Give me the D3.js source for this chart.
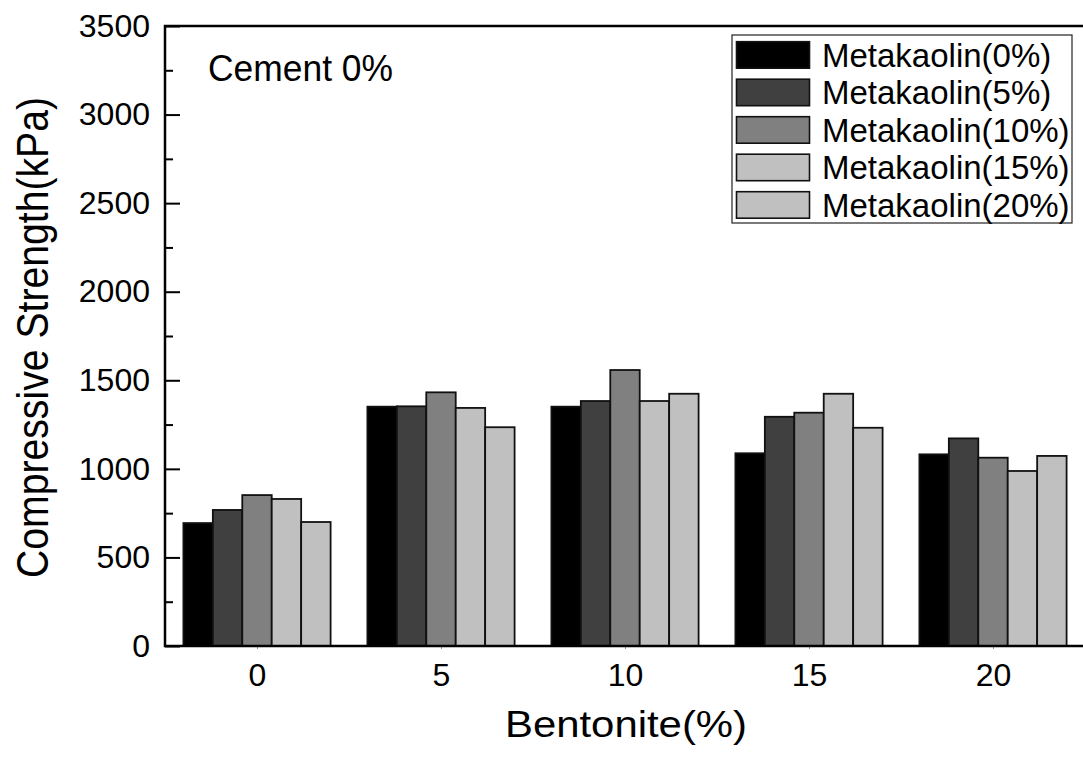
<!DOCTYPE html>
<html>
<head>
<meta charset="utf-8">
<script src="https://cdn.jsdelivr.net/npm/d3@7"></script>
<style>
  html, body { margin: 0; padding: 0; background: #fff; }
  svg { display: block; font-family: "Liberation Sans", Arial, sans-serif; }
</style>
</head>
<body>
<svg id="chart" width="1083" height="757"></svg>
<script>
// Bentonite content (%) on the x axis
const bentonite = [0, 5, 10, 15, 20];

// Compressive strength (kPa) for each metakaolin content
const seriesNames = ["Metakaolin(0%)", "Metakaolin(5%)", "Metakaolin(10%)", "Metakaolin(15%)", "Metakaolin(20%)"];
const mk0  = [694, 1351, 1351, 1088, 1082];
const mk5  = [768, 1353, 1383, 1294, 1172];
const mk10 = [852, 1432, 1558, 1317, 1063];
const mk15 = [830, 1344, 1383, 1424, 988];
const mk20 = [700, 1235, 1424, 1232, 1073];
const seriesValues = [mk0, mk5, mk10, mk15, mk20];
const seriesFill = ["#000000", "#404040", "#808080", "#c0c0c0", "#c0c0c0"];

const yMajorTicks = [0, 500, 1000, 1500, 2000, 2500, 3000, 3500];
const yMinorTicks = [250, 750, 1250, 1750, 2250, 2750, 3250];

const svg = d3.select("#chart");
const plotLeft = 165, plotRight = 1085, plotTop = 26, plotBottom = 646;

const x = d3.scaleLinear().domain([-2.5, 22.5]).range([plotLeft, plotRight]);
const y = d3.scaleLinear().domain([0, 3500]).range([plotBottom, plotTop]);

const groupWidth = x(5) - x(0);
const barWidth = groupWidth * 0.8 / seriesNames.length;

// Bars
const rows = [];
seriesValues.forEach((vals, si) => {
  vals.forEach((v, gi) => rows.push({ si, b: bentonite[gi], v }));
});
svg.append("g").selectAll("rect").data(rows).join("rect")
  .attr("x", d => x(d.b) - groupWidth * 0.4 + d.si * barWidth)
  .attr("y", d => y(d.v))
  .attr("width", barWidth)
  .attr("height", d => y(0) - y(d.v))
  .attr("fill", d => seriesFill[d.si])
  .attr("stroke", "#111")
  .attr("stroke-width", 1.8);

// Y axis: major ticks with labels, minor ticks inside the frame
const yAxis = svg.append("g").attr("transform", `translate(${plotLeft},0)`)
  .call(d3.axisLeft(y).tickValues(yMajorTicks).tickSize(-15).tickPadding(15).tickFormat(d3.format("d")));
yAxis.select(".domain").remove();
yAxis.selectAll(".tick line").attr("stroke", "#000").attr("stroke-width", 2);
yAxis.selectAll(".tick text")
  .attr("font-size", 32).attr("fill", "#000")
  .attr("font-family", "Liberation Sans, Arial, sans-serif");

const yMinor = svg.append("g").attr("transform", `translate(${plotLeft},0)`)
  .call(d3.axisLeft(y).tickValues(yMinorTicks).tickSize(-8).tickFormat(""));
yMinor.select(".domain").remove();
yMinor.selectAll(".tick line").attr("stroke", "#000").attr("stroke-width", 2);

// X axis labels with tiny ticks
const xAxis = svg.append("g").attr("transform", `translate(0,${plotBottom})`)
  .call(d3.axisBottom(x).tickValues(bentonite).tickSize(3).tickPadding(14).tickFormat(d3.format("d")));
xAxis.select(".domain").remove();
xAxis.selectAll(".tick line").attr("stroke", "#999").attr("stroke-width", 1);
xAxis.selectAll(".tick text")
  .attr("font-size", 32).attr("fill", "#000")
  .attr("font-family", "Liberation Sans, Arial, sans-serif");

// Frame
svg.append("rect")
  .attr("x", plotLeft).attr("y", plotTop)
  .attr("width", plotRight - plotLeft).attr("height", plotBottom - plotTop)
  .attr("fill", "none").attr("stroke", "#000").attr("stroke-width", 2.5);

// Axis titles
svg.append("text")
  .attr("x", 626).attr("y", 737)
  .attr("text-anchor", "middle")
  .attr("font-size", 37)
  .attr("textLength", 242).attr("lengthAdjust", "spacingAndGlyphs")
  .text("Bentonite(%)");

svg.append("text")
  .attr("transform", "translate(48,337.5) rotate(-90)")
  .attr("text-anchor", "middle")
  .attr("font-size", 45)
  .attr("textLength", 481).attr("lengthAdjust", "spacingAndGlyphs")
  .text("Compressive Strength(kPa)");

// Annotation
svg.append("text")
  .attr("x", 208).attr("y", 81)
  .attr("font-size", 36)
  .attr("textLength", 185).attr("lengthAdjust", "spacingAndGlyphs")
  .text("Cement 0%");

// Legend
const legend = svg.append("g");
legend.append("rect")
  .attr("x", 732).attr("y", 35).attr("width", 340).attr("height", 188)
  .attr("fill", "#fff").attr("stroke", "#222").attr("stroke-width", 1.2);
seriesNames.forEach((name, i) => {
  const ty = 41.7 + i * 37.5;
  legend.append("rect")
    .attr("x", 736.5).attr("y", ty).attr("width", 73).attr("height", 26.5)
    .attr("fill", seriesFill[i]).attr("stroke", "#111").attr("stroke-width", 1.6);
  legend.append("text")
    .attr("x", 822).attr("y", ty + 25)
    .attr("font-size", 33)
    .text(name);
});
</script>
</body>
</html>
